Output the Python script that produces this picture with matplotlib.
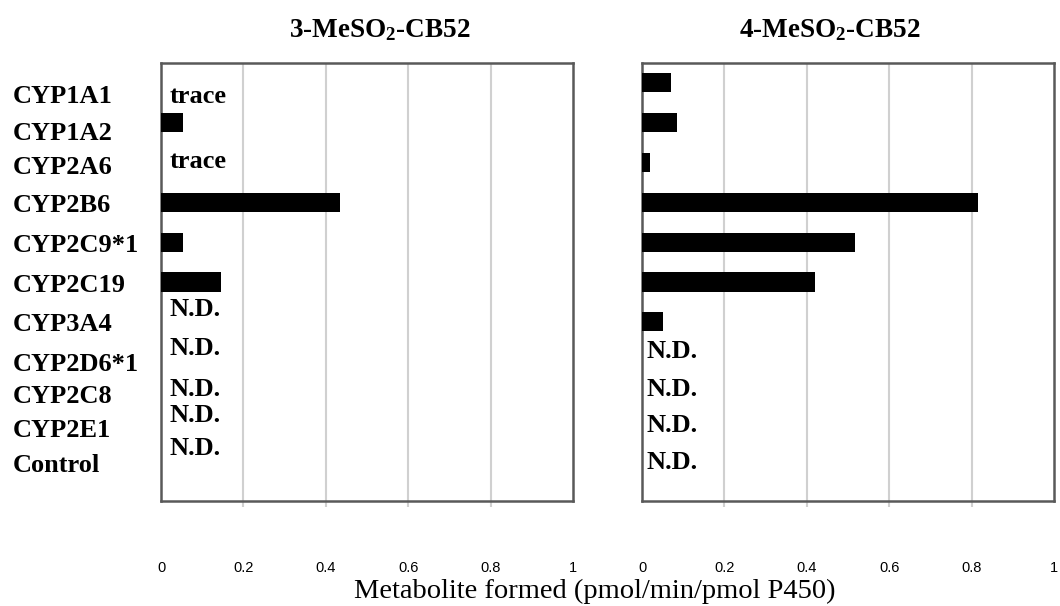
import numpy as np
import matplotlib
matplotlib.use('Agg')
import matplotlib.pyplot as plt
from matplotlib.transforms import blended_transform_factory

plt.rcParams['font.family'] = 'Liberation Serif'
plt.rcParams['mathtext.fontset'] = 'custom'
plt.rcParams['mathtext.rm'] = 'Liberation Serif:bold'
plt.rcParams['mathtext.default'] = 'rm'

enzymes = ['CYP1A1', 'CYP1A2', 'CYP2A6', 'CYP2B6', 'CYP2C9*1', 'CYP2C19',
           'CYP3A4', 'CYP2D6*1', 'CYP2C8', 'CYP2E1', 'Control']

# pmol/min/pmol P450, 0 where no bar is drawn
meso2_3 = [0, 0.054, 0, 0.435, 0.054, 0.145, 0, 0, 0, 0, 0]
meso2_4 = [0.07, 0.085, 0.019, 0.815, 0.517, 0.42, 0.051, 0, 0, 0, 0]

notes_3 = ['trace', '', 'trace', '', '', '', 'N.D.', 'N.D.', 'N.D.', 'N.D.', 'N.D.']
notes_4 = ['', '', '', '', '', '', '', 'N.D.', 'N.D.', 'N.D.', 'N.D.']

titles = ['3-MeSO$_2$-CB52', '4-MeSO$_2$-CB52']
xticks = [0, 0.2, 0.4, 0.6, 0.8, 1]
xticklabels = ['0', '0.2', '0.4', '0.6', '0.8', '1']

# vertical nudges (in category units) for the hand placed text
label_shift = [0.25, 0.18, 0.05, 0, 0, 0, 0, 0, -0.2, -0.35, -0.47]
note_shift_3 = [0.25, 0, -0.1, 0, 0, 0, -0.4, -0.4, -0.38, -0.72, -0.9]
note_shift_4 = [0, 0, 0, 0, 0, 0, 0, -0.33, -0.38, -0.47, -0.55]
nudge = 0.08

fig = plt.figure(figsize=(10.6, 6.06), dpi=100)
ax1 = fig.add_axes([0.1519, 0.1733, 0.3887, 0.7228])
ax2 = fig.add_axes([0.6057, 0.1733, 0.3887, 0.7228])

y = np.arange(len(enzymes))
panels = [(ax1, meso2_3, notes_3, note_shift_3, 0.02, titles[0], 0.03),
          (ax2, meso2_4, notes_4, note_shift_4, 0.012, titles[1], -0.045)]

for ax, vals, notes, shift, nx, title, tx in panels:
    ax.barh(y, vals, height=0.48, color='black', zorder=3)
    ax.set_xlim(0, 1)
    ax.set_ylim(len(enzymes) - 0.5, -0.5)
    ax.set_yticks([])
    ax.set_xticks(xticks)
    ax.set_xticklabels(xticklabels, fontfamily='Liberation Sans', fontsize=10.5)
    ax.xaxis.remove_overlapping_locs = False
    ax.set_xticks([0.2, 0.4, 0.6, 0.8], minor=True)
    ax.tick_params(axis='x', which='major', length=0, pad=43)
    ax.tick_params(axis='x', which='minor', length=4.5, width=1.5, color='#d0d0d0')
    ax.grid(True, axis='x', which='minor', color='#d0d0d0', linewidth=1.5)
    ax.set_axisbelow(True)
    for s in ax.spines.values():
        s.set_color('#595959')
        s.set_linewidth(1.8)
    for i, t in enumerate(notes):
        if t:
            ax.text(nx, y[i] + shift[i] + nudge, t, ha='left', va='center',
                    fontsize=19, fontweight='bold')
    ax.text(0.5 + tx, 1.075, title, transform=ax.transAxes, ha='center',
            va='center', fontsize=19.5, fontweight='bold')

trans = blended_transform_factory(ax1.transAxes, ax1.transData)
for i, name in enumerate(enzymes):
    ax1.text(-0.36, y[i] + label_shift[i] + nudge, name, transform=trans, ha='left',
             va='center', fontsize=19, fontweight='bold')

fig.text(0.561, 0.024, 'Metabolite formed (pmol/min/pmol P450)', ha='center',
         va='center', fontsize=20.5)

fig.savefig('out.png', dpi=100)
